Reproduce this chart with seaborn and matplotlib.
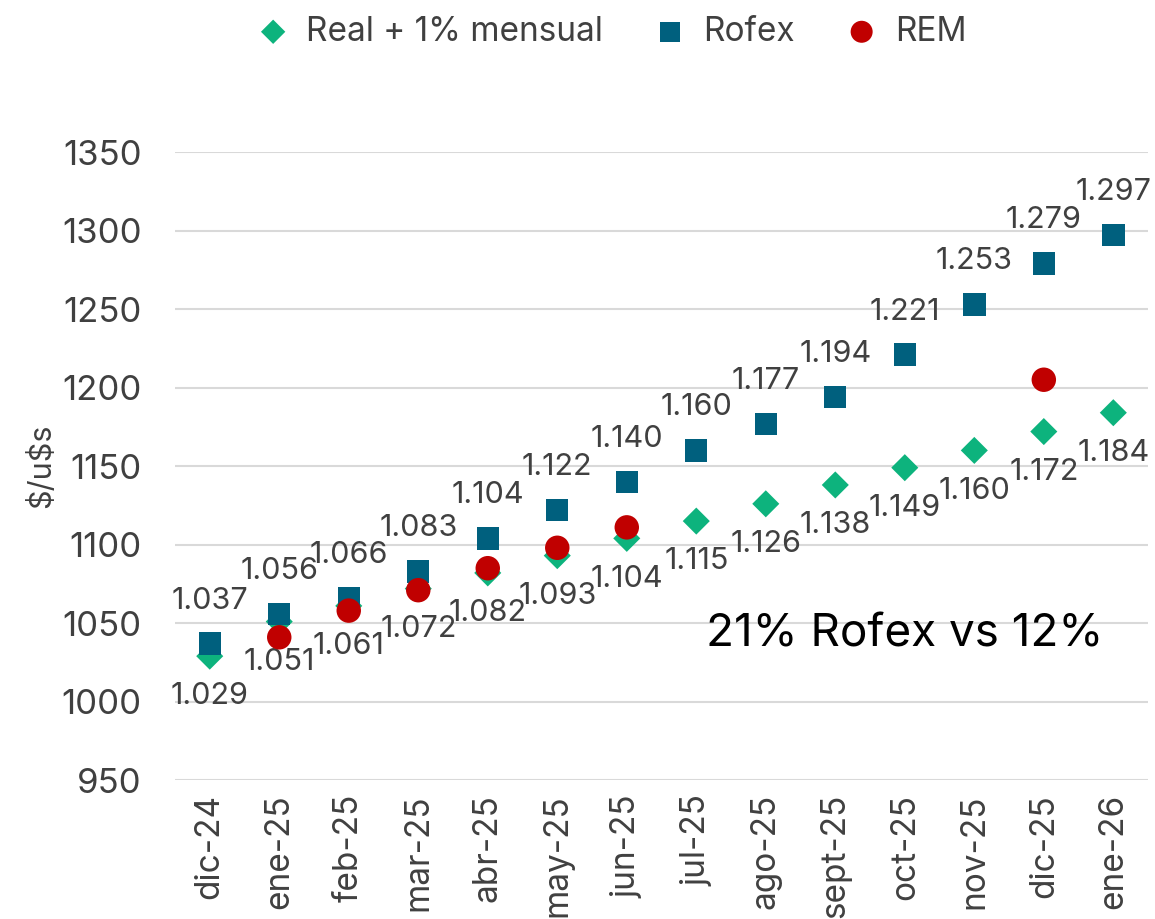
import pandas as pd
import numpy as np
import matplotlib
matplotlib.use("Agg")
import matplotlib.pyplot as plt
import seaborn as sns

# ==========================
# DATA
# ==========================
months = ["dic-24", "ene-25", "feb-25", "mar-25", "abr-25", "may-25", "jun-25",
          "jul-25", "ago-25", "sept-25", "oct-25", "nov-25", "dic-25", "ene-26"]
real = [1029, 1051, 1061, 1072, 1082, 1093, 1104, 1115, 1126, 1138, 1149, 1160, 1172, 1184]
rofex = [1037, 1056, 1066, 1083, 1104, 1122, 1140, 1160, 1177, 1194, 1221, 1253, 1279, 1297]
rem = [np.nan, 1041, 1058, 1071, 1085, 1098, 1111, np.nan, np.nan, np.nan, np.nan, np.nan, 1205, np.nan]
yticks = [950, 1000, 1050, 1100, 1150, 1200, 1250, 1300, 1350]
note = "21% Rofex vs 12%"

df = pd.DataFrame({"mes": months, "Real + 1% mensual": real, "Rofex": rofex, "REM": rem})
df["pos"] = range(len(months))

GREEN = "#0DB37D"
TEAL = "#00607E"
RED = "#C00000"
GREY = "#404040"

sns.set_theme(style="white")
plt.rcParams["font.family"] = ["Inter", "DejaVu Sans"]

fig = plt.figure(figsize=(11.55, 9.19), dpi=100)
ax = fig.add_axes([0.1515, 0.151, 0.8425, 0.6836])

sns.scatterplot(data=df, x="pos", y="Real + 1% mensual", marker="D", s=190,
                color=GREEN, edgecolor="none", ax=ax, label="Real + 1% mensual", zorder=3)
sns.scatterplot(data=df, x="pos", y="Rofex", marker="s", s=260,
                color=TEAL, edgecolor="none", ax=ax, label="Rofex", zorder=3)
sns.scatterplot(data=df.dropna(), x="pos", y="REM", marker="o", s=310,
                color=RED, edgecolor="none", ax=ax, label="REM", zorder=4)

# data labels
for i, v in enumerate(rofex):
    ax.annotate(f"{v/1000:.3f}", (i, v), xytext=(0, 31), textcoords="offset points",
                ha="center", va="center", fontsize=22, color=GREY, annotation_clip=False)
for i, v in enumerate(real):
    ax.annotate(f"{v/1000:.3f}", (i, v), xytext=(0, -29), textcoords="offset points",
                ha="center", va="center", fontsize=22, color=GREY, annotation_clip=False)

ax.text(10, 1043, note, ha="center", va="center", fontsize=33, color="black")

ax.set_xlim(-0.5, len(months) - 0.5)
ax.set_ylim(950, 1350)
ax.set_xticks(range(len(months)))
ax.set_xticklabels(months, rotation=90, fontsize=24, color=GREY)
ax.set_yticks(yticks)
ax.set_yticklabels([str(t) for t in yticks], fontsize=25, color=GREY)
ax.tick_params(axis="y", length=0, pad=24)
ax.tick_params(axis="x", length=0, pad=10)
ax.yaxis.grid(True, color="#D9D9D9", linewidth=1.5)
ax.set_axisbelow(True)
for s in ax.spines.values():
    s.set_visible(False)
ax.set_xlabel("")
ax.set_ylabel(r"\$/u\$s", fontsize=22, color=GREY, labelpad=4)

ax.legend(loc="upper center", bbox_to_anchor=(0.44, 1.265), ncol=3, frameon=False,
          fontsize=24, labelcolor=GREY, handletextpad=0.0, columnspacing=1.0,
          markerscale=0.9)

fig.savefig("out.png", dpi=100)
